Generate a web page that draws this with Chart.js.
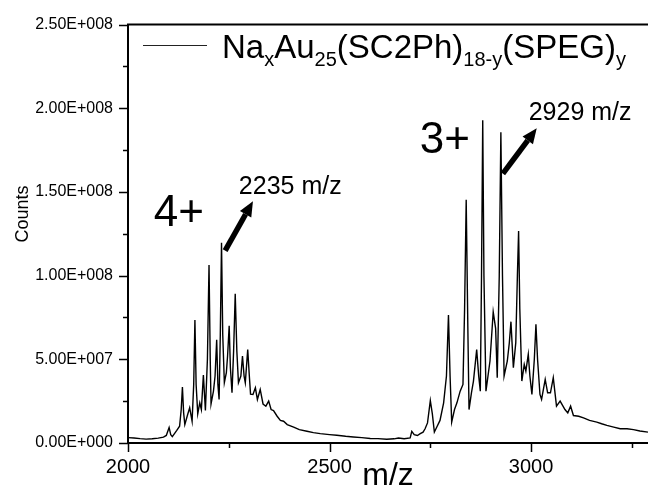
<!DOCTYPE html>
<html>
<head>
<meta charset="utf-8">
<script src="https://cdn.jsdelivr.net/npm/chart.js@4/dist/chart.umd.min.js"></script>
<style>
  html, body { margin: 0; padding: 0; background: #fff; }
  canvas { display: block; }
</style>
</head>
<body>
<canvas id="c" width="648" height="495"></canvas>
<script>
// ---- data ----
const mzValues = [
  2000, 2015, 2030, 2045, 2060, 2075, 2088, 2095, 2102, 2106, 2110, 2121, 2128, 2132, 2135, 2138, 2141,
  2148, 2153, 2159, 2163, 2166, 2169, 2173, 2178, 2182, 2187, 2192, 2197, 2201, 2204, 2206, 2212, 2216,
  2220, 2223, 2226, 2229, 2232, 2235, 2239, 2244, 2247, 2251, 2254, 2258, 2262, 2266, 2270, 2274, 2280,
  2284, 2288, 2291, 2297, 2301, 2304, 2310, 2316, 2321, 2328, 2335, 2342, 2349, 2355, 2361, 2370, 2378,
  2386, 2395, 2411, 2425, 2444, 2460, 2477, 2500, 2518, 2540, 2559, 2580, 2601, 2620, 2642, 2660, 2671,
  2685, 2700, 2704, 2710, 2718, 2725, 2732, 2737, 2743, 2750, 2755, 2760, 2767, 2774, 2783, 2790, 2795,
  2799, 2803, 2810, 2816, 2824, 2831, 2835, 2839, 2843, 2846, 2852, 2857, 2865, 2870, 2874, 2877, 2880,
  2883, 2888, 2893, 2898, 2906, 2912, 2916, 2921, 2925, 2929, 2933, 2941, 2946, 2950, 2956, 2962, 2966,
  2969, 2972, 2977, 2983, 2987, 2993, 2997, 3002, 3008, 3012, 3016, 3022, 3026, 3035, 3041, 3048, 3055,
  3063, 3072, 3084, 3091, 3098, 3105, 3118, 3130, 3145, 3163, 3175, 3188, 3205, 3221, 3238, 3254, 3270, 3290
];
const countValues = [
  3.2e6, 3.0e6, 2.6e6, 2.3e6, 2.5e6, 2.9e6, 3.5e6, 4.5e6, 9.3e6, 5.0e6, 3.8e6, 7.5e6, 1.0e7, 2.0e7, 3.35e7, 1.8e7, 1.1e7,
  1.7e7, 2.1e7, 1.3e7, 3.5e7, 7.35e7, 3.5e7, 1.74e7, 2.4e7, 2.0e7, 4.06e7, 1.94e7, 5.0e7, 1.063e8, 5.0e7, 2.33e7, 3.1e7, 4.0e7,
  6.17e7, 3.5e7, 2.6e7, 6.5e7, 1.197e8, 6.5e7, 3.6e7, 4.2e7, 5.2e7, 7.0e7, 4.5e7, 3.0e7, 5.5e7, 8.92e7, 5.5e7, 3.6e7, 4.0e7,
  5.2e7, 4.0e7, 3.6e7, 5.58e7, 4.0e7, 2.92e7, 2.9e7, 3.3e7, 2.6e7, 3.2e7, 2.33e7, 2.2e7, 2.5e7, 2.0e7, 1.94e7, 1.6e7, 1.35e7,
  1.3e7, 1.1e7, 9.5e6, 8.0e6, 7.0e6, 6.2e6, 5.6e6, 5.0e6, 4.6e6, 4.0e6, 3.6e6, 3.2e6, 2.7e6, 2.6e6, 2.2e6, 2.5e6, 3.0e6,
  2.5e6, 3.0e6, 7.0e6, 5.0e6, 4.5e6, 5.6e6, 6.5e6, 8.5e6, 1.2e7, 2.53e7, 1.74e7, 6.5e6, 1.0e7, 1.35e7, 2.4e7, 4.0e7, 7.64e7,
  4.0e7, 1.25e7, 2.0e7, 2.4e7, 3.1e7, 3.5e7, 8.0e7, 1.453e8, 7.0e7, 2.0e7, 3.0e7, 3.7e7, 5.58e7, 4.0e7, 3.1e7, 1.0e8, 1.929e8,
  1.0e8, 3.1e7, 4.0e7, 4.9e7, 7.84e7, 6.85e7, 3.9e7, 1.0e8, 1.857e8, 1.0e8, 4.0e7, 4.9e7, 6.0e7, 7.25e7, 4.5e7, 6.0e7, 1.0e8,
  1.266e8, 8.0e7, 3.7e7, 4.7e7, 4.3e7, 5.3e7, 4.0e7, 2.9e7, 5.0e7, 7.1e7, 5.0e7, 2.9e7, 2.6e7, 3.8e7, 3.0e7, 3.0e7, 3.9e7,
  2.2e7, 2.5e7, 2.0e7, 1.8e7, 2.2e7, 1.64e7, 1.6e7, 1.5e7, 1.35e7, 1.25e7, 1.15e7, 1.05e7, 9.5e6, 8.5e6, 8.5e6, 8.0e6, 7.2e6, 6.5e6
];

// ---- axes ----
const xMin = 2000, xMax = 3290;
const xMajorTicks = [2000, 2500, 3000];
const xMinorTicks = [2250, 2750, 3250];
const yMin = 0, yMax = 2.5e8;
const yMajorTicks = [0, 5e7, 1e8, 1.5e8, 2e8, 2.5e8];
const yMinorTicks = [2.5e7, 7.5e7, 1.25e8, 1.75e8, 2.25e8];
const xTitle = 'm/z';
const yTitle = 'Counts';

// ---- legend text (rich, with subscripts) ----
const legendParts = [
  ['Na', false], ['x', true], ['Au', false], ['25', true],
  ['(SC2Ph)', false], ['18-y', true], ['(SPEG)', false], ['y', true]
];

// ---- annotations (data coordinates) ----
const chargeLabels = [
  { text: '4+', mz: 2064, count: 1.297e8 },
  { text: '3+', mz: 2724, count: 1.734e8 }
];
const peakLabels = [
  { text: '2235 m/z', mz: 2275, count: 1.488e8 },
  { text: '2929 m/z', mz: 2994, count: 1.929e8 }
];
const arrows = [
  { from: [2241, 1.15e8], to: [2310, 1.445e8] },
  { from: [2930, 1.61e8], to: [3014, 1.88e8] }
];

const FONT = '"Liberation Sans", Arial, Helvetica, sans-serif';

function sciLabel(v) {
  if (v === 0) return '0.00E+000';
  const e = Math.floor(Math.log10(Math.abs(v)) + 1e-9);
  const m = v / Math.pow(10, e);
  return m.toFixed(2) + 'E' + (e >= 0 ? '+' : '-') + String(Math.abs(e)).padStart(3, '0');
}

const decorPlugin = {
  id: 'decor',
  afterDraw(chart) {
    const { ctx, chartArea: ca, scales: { x, y } } = chart;
    ctx.save();
    ctx.strokeStyle = '#000';
    ctx.fillStyle = '#000';

    // top frame line
    ctx.lineWidth = 2;
    ctx.beginPath();
    ctx.moveTo(ca.left - 1, ca.top);
    ctx.lineTo(ca.right, ca.top);
    ctx.stroke();

    // tick marks (outward)
    ctx.lineWidth = 1.5;
    ctx.beginPath();
    xMajorTicks.forEach(v => {
      const px = Math.round(x.getPixelForValue(v)) + 0.5;
      ctx.moveTo(px, ca.bottom); ctx.lineTo(px, ca.bottom + 9);
    });
    xMinorTicks.forEach(v => {
      const px = Math.round(x.getPixelForValue(v)) + 0.5;
      ctx.moveTo(px, ca.bottom); ctx.lineTo(px, ca.bottom + 5);
    });
    yMajorTicks.forEach(v => {
      const py = Math.round(y.getPixelForValue(v)) + 0.5;
      ctx.moveTo(ca.left, py); ctx.lineTo(ca.left - 9, py);
    });
    yMinorTicks.forEach(v => {
      const py = Math.round(y.getPixelForValue(v)) + 0.5;
      ctx.moveTo(ca.left, py); ctx.lineTo(ca.left - 5, py);
    });
    ctx.stroke();

    // y title
    ctx.save();
    ctx.translate(23, 214);
    ctx.rotate(-Math.PI / 2);
    ctx.font = '18px ' + FONT;
    ctx.textAlign = 'center';
    ctx.textBaseline = 'middle';
    ctx.fillText(yTitle, 0, 0);
    ctx.restore();

    // legend
    ctx.lineWidth = 1;
    ctx.strokeStyle = '#222';
    ctx.beginPath();
    ctx.moveTo(143, 45.5); ctx.lineTo(207, 45.5);
    ctx.stroke();
    let lx = 222;
    const base = 58;
    ctx.textAlign = 'left';
    ctx.textBaseline = 'alphabetic';
    legendParts.forEach(([t, sub]) => {
      ctx.font = (sub ? '20px ' : '33px ') + FONT;
      ctx.fillText(t, lx, sub ? base + 8 : base);
      lx += ctx.measureText(t).width;
    });

    // charge labels
    ctx.font = '44px ' + FONT;
    chargeLabels.forEach(l => ctx.fillText(l.text, x.getPixelForValue(l.mz), y.getPixelForValue(l.count)));
    ctx.font = '25px ' + FONT;
    peakLabels.forEach(l => ctx.fillText(l.text, x.getPixelForValue(l.mz), y.getPixelForValue(l.count)));

    // arrows
    arrows.forEach(a => {
      const x0 = x.getPixelForValue(a.from[0]), y0 = y.getPixelForValue(a.from[1]);
      const x1 = x.getPixelForValue(a.to[0]), y1 = y.getPixelForValue(a.to[1]);
      const ang = Math.atan2(y1 - y0, x1 - x0);
      const headLen = 15, headW = 6.5;
      const bx = x1 - headLen * Math.cos(ang), by = y1 - headLen * Math.sin(ang);
      ctx.lineWidth = 5.5;
      ctx.lineCap = 'butt';
      ctx.strokeStyle = '#000';
      ctx.beginPath();
      ctx.moveTo(x0, y0); ctx.lineTo(bx, by);
      ctx.stroke();
      ctx.beginPath();
      ctx.moveTo(x1, y1);
      ctx.lineTo(bx + headW * Math.sin(ang), by - headW * Math.cos(ang));
      ctx.lineTo(bx - headW * Math.sin(ang), by + headW * Math.cos(ang));
      ctx.closePath();
      ctx.fill();
    });
    ctx.restore();
  }
};

new Chart(document.getElementById('c'), {
  type: 'line',
  data: {
    datasets: [{
      label: 'spectrum',
      data: mzValues.map((m, i) => ({ x: m, y: countValues[i] })),
      borderColor: '#000',
      borderWidth: 1.4,
      pointRadius: 0,
      tension: 0,
      fill: false
    }]
  },
  options: {
    responsive: false,
    animation: false,
    devicePixelRatio: 1,
    layout: { padding: { top: 19, right: 0, left: 0, bottom: 0 } },
    plugins: { legend: { display: false }, tooltip: { enabled: false } },
    scales: {
      x: {
        type: 'linear',
        min: xMin, max: xMax,
        afterFit: s => { s.height = 52; },
        afterBuildTicks: s => { s.ticks = xMajorTicks.map(v => ({ value: v })); },
        grid: { display: true, drawOnChartArea: false, drawTicks: false },
        border: { display: true, color: '#000', width: 2 },
        ticks: { autoSkip: false, padding: 12, color: '#000', font: { family: FONT, size: 20 }, maxRotation: 0, callback: v => String(v) },
        title: { display: true, text: xTitle, color: '#000', font: { family: FONT, size: 32 }, padding: { top: 0, bottom: 0 } }
      },
      y: {
        min: yMin, max: yMax,
        afterFit: s => { s.width = 128; },
        afterBuildTicks: s => { s.ticks = yMajorTicks.map(v => ({ value: v })); },
        grid: { display: true, drawOnChartArea: false, drawTicks: false },
        border: { display: true, color: '#000', width: 2 },
        ticks: { autoSkip: false, padding: 15, color: '#000', font: { family: FONT, size: 16 }, callback: v => sciLabel(v) }
      }
    }
  },
  plugins: [decorPlugin]
});
</script>
</body>
</html>
